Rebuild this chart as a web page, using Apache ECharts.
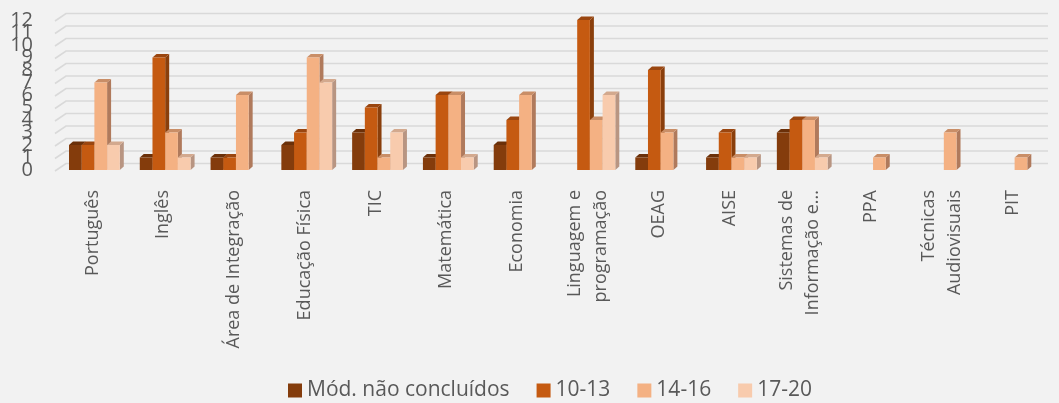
<!DOCTYPE html>
<html><head><meta charset="utf-8">
<script src="https://cdn.jsdelivr.net/npm/echarts@6/dist/echarts.min.js"></script>
<style>html,body{margin:0;padding:0;background:#f2f2f2}#c{width:1059px;height:403px}</style>
</head><body><div id="c"></div>
<script>
const categories = ['Português','Inglês','Área de Integração','Educação Física','TIC','Matemática','Economia','Linguagem e\nprogramação','OEAG','AISE','Sistemas de\nInformação e...','PPA','Técnicas\nAudiovisuais','PIT'];
const seriesNames = ['Mód. não concluídos','10-13','14-16','17-20'];
const modNaoConcluidos = [2,1,1,2,3,1,2,0,1,1,3,0,0,0];
const v10_13 = [2,9,1,3,5,6,4,12,8,3,4,0,0,0];
const v14_16 = [7,3,6,9,1,6,6,4,3,1,4,1,3,1];
const v17_20 = [2,1,0,7,3,1,0,6,0,1,1,0,0,0];
const yTicks = [0,1,2,3,4,5,6,7,8,9,10,11,12];
const colors = ['#843C0C','#C55A11','#F4B183','#F8CBAD'];
const sideColors = ['#5e2a08','#8a3f0c','#b07a5c','#b89582'];
const topColors = ['#6b3009','#9a4610','#c98e67','#d3a98e'];

const allValues = [modNaoConcluidos, v10_13, v14_16, v17_20];
const font = '"Open Sans", "Noto Sans", sans-serif';

function makeRender(k){
  return function(params, api){
    const v = api.value(1);
    if(!v) return null;
    const base = api.coord([api.value(0), 0]);
    const top = api.coord([api.value(0), v]);
    const w = 12.7, dx = 4, dy = 3.5;
    const x0 = base[0] - 2*w + 2 + k*w;
    const yt = top[1], yb = base[1];
    return {type:'group', children:[
      {type:'polygon', shape:{points:[[x0+w,yt],[x0+w+dx,yt-dy],[x0+w+dx,yb-dy],[x0+w,yb]]}, style:{fill:sideColors[k]}},
      {type:'polygon', shape:{points:[[x0,yt],[x0+dx,yt-dy],[x0+w+dx,yt-dy],[x0+w,yt]]}, style:{fill:topColors[k]}},
      {type:'rect', shape:{x:x0,y:yt,width:w,height:yb-yt}, style:{fill:colors[k]}}
    ]};
  };
}

const series = [{
  type:'custom', name:'grid', z:1, silent:true,
  data: yTicks.map(t=>[0,t]),
  encode:{x:0,y:1},
  renderItem:function(params, api){
    const cs = params.coordSys;
    const y = api.coord([0, api.value(1)])[1];
    return {type:'polyline', shape:{points:[[cs.x-2,y+1],[cs.x+9,y-6.5],[cs.x+cs.width,y-6.5]]},
      style:{stroke:'#d9d9d9', lineWidth:1.6, fill:null}};
  }
}];
allValues.forEach((vals,k)=>{
  series.push({
    type:'custom', name:seriesNames[k], z:2,
    itemStyle:{color:colors[k]},
    data: vals.map((v,i)=>[i,v]),
    encode:{x:0,y:1},
    renderItem: makeRender(k)
  });
});

function yAxisFor(parity){
  return {type:'value', min:0, max:12, interval:1, position:'left',
    splitLine:{show:false}, axisLine:{show:false}, axisTick:{show:false},
    axisLabel:{fontSize:20, color:'#595959', margin:24, fontFamily:font,
      showMinLabel:true, showMaxLabel:true, hideOverlap:false,
      formatter:function(v){ return (v % 2 === parity) ? String(v) : ''; }}};
}

const chart = echarts.init(document.getElementById('c'));
chart.setOption({
  animation:false,
  backgroundColor:'#f2f2f2',
  textStyle:{fontFamily:font},
  grid:{left:57, right:11, top:20, height:150},
  xAxis:{type:'category', data:categories,
    axisLine:{show:false}, axisTick:{show:false},
    axisLabel:{rotate:90, fontSize:18, color:'#595959', margin:20, lineHeight:26, interval:0, fontFamily:font}},
  yAxis:[yAxisFor(0), yAxisFor(1)],
  legend:{data:seriesNames, top:375, left:283, icon:'rect', itemWidth:14, itemHeight:14, itemGap:27,
    textStyle:{fontSize:21, color:'#595959', fontFamily:font}},
  series:series
});
</script></body></html>
